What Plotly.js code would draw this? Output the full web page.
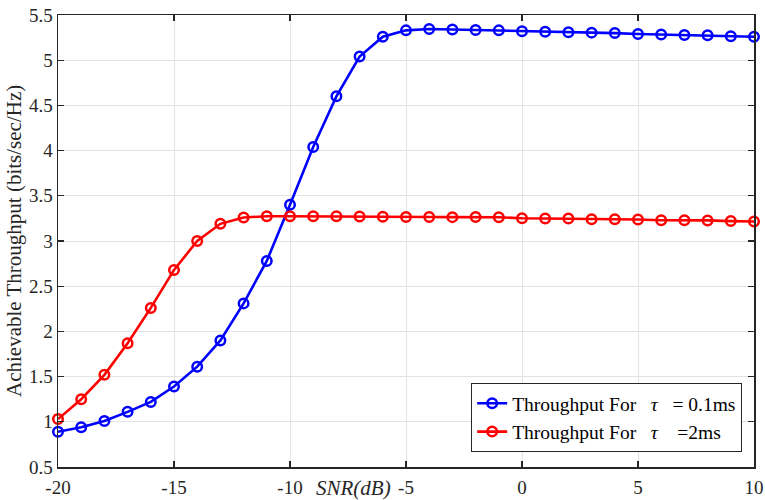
<!DOCTYPE html>
<html>
<head>
<meta charset="utf-8">
<script src="https://cdn.plot.ly/plotly-3.0.1.min.js"></script>
<style>
  html, body { margin: 0; padding: 0; background: #fff; }
  #chart { width: 765px; height: 500px; }
</style>
</head>
<body>
<div id="chart"></div>
<script>
// SNR sweep in dB
const snr = [-20, -19, -18, -17, -16, -15, -14, -13, -12, -11, -10, -9, -8, -7, -6, -5,
             -4, -3, -2, -1, 0, 1, 2, 3, 4, 5, 6, 7, 8, 9, 10];

// Achievable throughput (bits/sec/Hz) for tau = 0.1 ms
const throughputShort = [0.89, 0.94, 1.01, 1.11, 1.22, 1.39, 1.61, 1.90, 2.31, 2.78, 3.40,
                         4.04, 4.60, 5.04, 5.26, 5.33, 5.345, 5.34, 5.335, 5.33, 5.32, 5.315,
                         5.31, 5.305, 5.30, 5.29, 5.285, 5.28, 5.275, 5.265, 5.26];

// Achievable throughput (bits/sec/Hz) for tau = 2 ms
const throughputLong = [1.03, 1.25, 1.52, 1.87, 2.26, 2.68, 3.00, 3.19, 3.26, 3.274, 3.274,
                        3.274, 3.274, 3.272, 3.268, 3.266, 3.266, 3.264, 3.265, 3.263, 3.252,
                        3.25, 3.25, 3.24, 3.24, 3.238, 3.23, 3.23, 3.228, 3.22, 3.216];

const seriesNames = ['Throughput For   <i>\u03C4</i>   = 0.1ms', 'Throughput For   <i>\u03C4</i>    =2ms'];
const xTicks = [-20, -15, -10, -5, 0, 5, 10];
const yTicks = [0.5, 1, 1.5, 2, 2.5, 3, 3.5, 4, 4.5, 5, 5.5];
const xLabel = '<i>SNR(dB)</i>';
const yLabel = 'Achievable Throughput (bits/sec/Hz)';

const serif = 'Liberation Serif, Times New Roman, serif';
const axisColor = '#262626';

function curve(y, color, name) {
  return {
    x: snr, y: y, name: name, type: 'scatter', mode: 'lines+markers',
    line: { color: color, width: 2.6 },
    marker: { symbol: 'circle-open', size: 9.5, color: color, line: { width: 2.5, color: color } },
    cliponaxis: false
  };
}

const data = [
  curve(throughputShort, '#0000ff', seriesNames[0]),
  curve(throughputLong, '#ff0000', seriesNames[1])
];

const axisBase = {
  showline: true, linecolor: axisColor, linewidth: 1.5, mirror: 'ticks',
  ticks: 'inside', ticklen: 6, tickwidth: 1.2, tickcolor: axisColor,
  showgrid: true, gridcolor: '#e3e3e3', gridwidth: 1, zeroline: false,
  tickfont: { family: serif, size: 19, color: axisColor }
};

const layout = {
  width: 765, height: 500,
  margin: { l: 58, r: 11, t: 15, b: 33 },
  paper_bgcolor: '#ffffff', plot_bgcolor: '#ffffff',
  showlegend: true,
  legend: {
    x: 0.983, y: 0.033, xanchor: 'right', yanchor: 'bottom',
    bgcolor: '#ffffff', bordercolor: axisColor, borderwidth: 1,
    font: { family: serif, size: 19.5, color: '#000000' },
    tracegroupgap: 0
  },
  xaxis: Object.assign({}, axisBase, {
    range: [-20, 10], tickvals: xTicks, ticktext: xTicks.map(String),
    ticklabelstandoff: 3
  }),
  yaxis: Object.assign({}, axisBase, {
    range: [0.5, 5.5], tickvals: yTicks, ticktext: yTicks.map(String)
  }),
  annotations: [
    {
      text: xLabel, xref: 'paper', yref: 'paper',
      x: 0.425, y: 0, yshift: -21, xanchor: 'center', yanchor: 'middle',
      showarrow: false, font: { family: serif, size: 21, color: axisColor }
    },
    {
      text: yLabel, xref: 'paper', yref: 'paper', textangle: -90,
      x: 0, y: 0.5, xshift: -44, xanchor: 'center', yanchor: 'middle',
      showarrow: false, font: { family: serif, size: 21, color: axisColor }
    }
  ]
};

Plotly.newPlot('chart', data, layout, { displayModeBar: false, staticPlot: true });
</script>
</body>
</html>
